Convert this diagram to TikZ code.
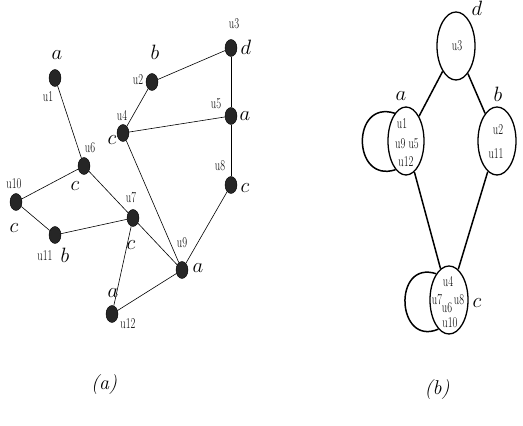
\documentclass[tikz,border=0pt]{standalone}
\usepackage{graphicx}
\usetikzlibrary{shapes.geometric}
\newcommand{\nm}[1]{\scalebox{0.7}[1]{#1}}

\begin{document}
\begin{tikzpicture}[x=1pt,y=1pt]
  \tikzset{dot/.style={draw,ellipse,fill=black!85,inner sep=0pt,minimum width=12pt,minimum height=17pt},
    vlabel/.style={inner sep=0pt,font=\fontsize{15}{16}\selectfont},
    tag/.style={inner sep=0pt,font=\fontsize{21}{23}\selectfont},
    blob/.style={draw,ellipse,line width=1.3pt,inner sep=0pt,minimum width=38pt,minimum height=68pt}}
  \useasboundingbox (0,0) rectangle (523,426);
  % (a) the graph
  \node[dot] (u1) at (55,348) {};
  \node[dot] (u2) at (152,344) {};
  \node[dot] (u3) at (231,378) {};
  \node[dot] (u4) at (123,293) {};
  \node[dot] (u5) at (231,310) {};
  \node[dot] (u6) at (84,260) {};
  \node[dot] (u7) at (133,208) {};
  \node[dot] (u8) at (231,241) {};
  \node[dot] (u9) at (182,156) {};
  \node[dot] (u10) at (16,224) {};
  \node[dot] (u11) at (55,191) {};
  \node[dot] (u12) at (112,112) {};
  \node[vlabel] (n1) at (48,329) {\nm{u1}};
  \node[vlabel] (n2) at (138,346) {\nm{u2}};
  \node[vlabel] (n3) at (234,402) {\nm{u3}};
  \node[vlabel] (n4) at (122,310) {\nm{u4}};
  \node[vlabel] (n5) at (216,322) {\nm{u5}};
  \node[vlabel] (n6) at (90,278) {\nm{u6}};
  \node[vlabel] (n7) at (131,228) {\nm{u7}};
  \node[vlabel] (n8) at (220,260) {\nm{u8}};
  \node[vlabel] (n9) at (182,183) {\nm{u9}};
  \node[vlabel] (n10) at (14,242) {\nm{u10}};
  \node[vlabel] (n11) at (45,170) {\nm{u11}};
  \node[vlabel] (n12) at (128,102) {\nm{u12}};
  \node[tag] (t1) at (57,371) {$a$};
  \node[tag] (t2) at (155,374) {$b$};
  \node[tag] (t3) at (246,379) {$d$};
  \node[tag] (t4) at (112,286) {$c$};
  \node[tag] (t5) at (245,310) {$a$};
  \node[tag] (t6) at (75,240) {$c$};
  \node[tag] (t7) at (131,181) {$c$};
  \node[tag] (t8) at (245,238) {$c$};
  \node[tag] (t9) at (198,158) {$a$};
  \node[tag] (t10) at (14,198) {$c$};
  \node[tag] (t11) at (65,171) {$b$};
  \node[tag] (t12) at (113,133) {$a$};
  \path[draw,line width=0.6pt]
  (u1) edge (u6)
  (u2) edge (u3) edge (u4)
  (u3) edge (u5)
  (u4) edge (u5) edge (u9)
  (u5) edge (u8)
  (u8) edge (u9)
  (u6) edge (u10) edge (u7)
  (u10) edge (u11)
  (u11) edge (u7)
  (u7) edge (u9) edge (u12)
  (u12) edge (u9)
  ;
  \node[font=\fontsize{20}{22}\selectfont\itshape] (capa) at (104,41) {(a)};
  % (b) the quotient
  \node[blob] (bd) at (456,380) {};
  \node[blob,minimum width=36pt] (ba) at (406,285) {};
  \node[blob] (bb) at (497,285) {};
  \node[blob] (bc) at (449,126) {};
  \node[vlabel] (m3) at (457,380) {\nm{u3}};
  \node[vlabel] (m1) at (402,302) {\nm{u1}};
  \node[vlabel] (m95) at (407,282) {\nm{u9\ u5}};
  \node[vlabel] (m12) at (406,264) {\nm{u12}};
  \node[vlabel] (m2) at (498,296) {\nm{u2}};
  \node[vlabel] (m11) at (496,272) {\nm{u11}};
  \node[vlabel] (m4) at (448,144) {\nm{u4}};
  \node[vlabel] (m7) at (437,126) {\nm{u7}};
  \node[vlabel] (m6) at (447,118) {\nm{u6}};
  \node[vlabel] (m8) at (459,126) {\nm{u8}};
  \node[vlabel] (m10) at (450,103) {\nm{u10}};
  \node[tag] (sd) at (477,418) {$d$};
  \node[tag] (sa) at (401,330) {$a$};
  \node[tag] (sb) at (498,332) {$b$};
  \node[tag] (sc) at (477,123) {$c$};
  \path[draw,line width=1.5pt]
  (bd) edge (ba) edge (bb)
  (ba) edge (bc)
  (bb) edge (bc)
  ;
  \draw[line width=1.5pt] (ba.112) .. controls +(162:46) and +(198:46) .. (ba.250);
  \draw[line width=1.5pt] (bc.116) .. controls +(162:46) and +(203:46) .. (bc.250);
  \node[font=\fontsize{20}{22}\selectfont\itshape] (capb) at (437,36) {(b)};
\end{tikzpicture}
\end{document}
